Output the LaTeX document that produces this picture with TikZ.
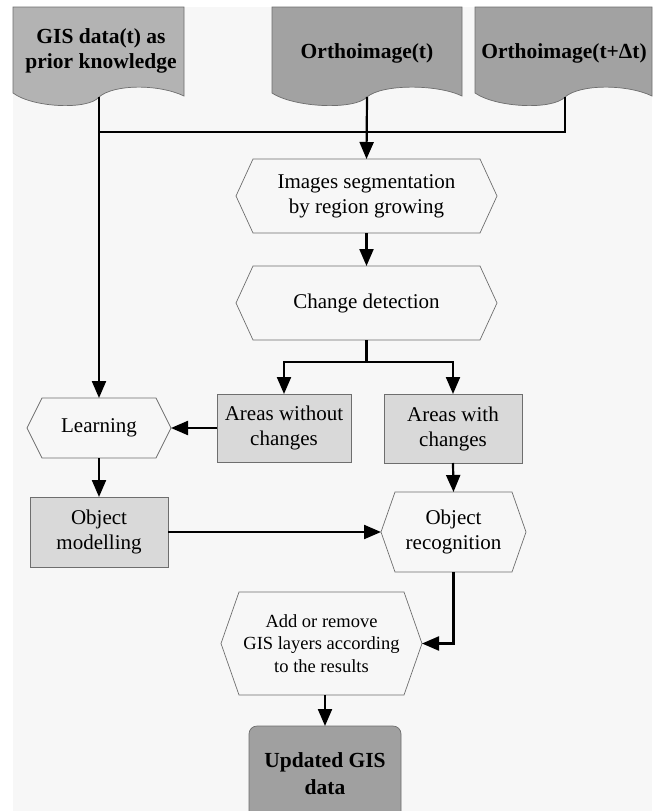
\documentclass[tikz,border=0pt]{standalone}
\usepackage{fontspec}
\setmainfont{Liberation Serif}
\usetikzlibrary{arrows.meta,calc}
\definecolor{bgc}{HTML}{F7F7F7}
\definecolor{gisc}{HTML}{B3B3B3}
\definecolor{ortc}{HTML}{A2A2A2}
\definecolor{boxc}{HTML}{D9D9D9}
\definecolor{updc}{HTML}{A0A0A0}
\definecolor{edgec}{HTML}{6E6E6E}
\newcommand\hexdraw[2]{\draw[hexline] (#1.west) -- ([xshift=#2]#1.north west) -- ([xshift=-#2]#1.north east) -- (#1.east) -- ([xshift=-#2]#1.south east) -- ([xshift=#2]#1.south west) -- cycle;}
\begin{document}
\begin{tikzpicture}[x=1pt,y=-1pt,
  txt/.style={font=\fontsize{21}{25}\selectfont, align=center},
  doctext/.style={font=\fontsize{21.5}{25}\selectfont\bfseries, align=center, inner sep=0pt},
  docline/.style={draw=edgec, line width=0.7pt},
  hexline/.style={draw=edgec, line width=0.7pt},
  hexnode/.style={txt, draw=none, inner sep=0pt, outer sep=0pt},
  grbox/.style={txt, draw=edgec, line width=0.7pt, fill=boxc, inner sep=0pt, outer sep=0pt},
  conn/.style={draw=black, line width=2.2pt},
  arr/.style={conn, -{Triangle[length=17pt,width=14pt]}}]
\useasboundingbox (0,0) rectangle (654,811);
\clip (0,0) rectangle (654,811);
\fill[white] (0,0) rectangle (654,811);
\fill[bgc] (13,7) rectangle (652,811);

% documents
\draw[docline, fill=gisc] (13,7) -- (184,7) -- (184,96) .. controls (159,84) and (114,84) .. (99,97) .. controls (89,110) and (33,108) .. (13,93) -- cycle;
\draw[docline, fill=ortc] (272,7) -- (462,7) -- (462,96) .. controls (437,84) and (382,84) .. (367,97) .. controls (355,110) and (295,108) .. (272,93) -- cycle;
\draw[docline, fill=ortc] (475,7) -- (652,7) -- (652,96) .. controls (627,84) and (580,84) .. (565,97) .. controls (553,110) and (497,108) .. (475,93) -- cycle;
\node[doctext] (gis) at (101,51) {GIS data(t) as\\prior knowledge};
\node[doctext] (ort1) at (367,53) {Orthoimage(t)};
\node[doctext] (ort2) at (564,53) {Orthoimage(t+Δt)};
\coordinate (gisC) at (99,97);
\coordinate (ort1C) at (367,97);
\coordinate (ort2C) at (565,97);
\coordinate (bus) at (99,132);

% process nodes
\node[hexnode, minimum width=261pt, minimum height=74pt] (seg) at (366.5,196) {Images segmentation\\by region growing};
\node[hexnode, minimum width=261pt, minimum height=74pt] (cd) at (366.5,303) {Change detection};
\node[hexnode, minimum width=144pt, minimum height=60pt] (learn) at (99,428) {Learning};
\node[grbox, minimum width=134pt, minimum height=68pt] (awo) at (284,428) {Areas without\\changes};
\node[grbox, minimum width=138pt, minimum height=69pt] (awi) at (453,428.5) {Areas with\\changes};
\node[grbox, minimum width=138pt, minimum height=70pt] (om) at (99,532) {Object\\modelling};
\node[hexnode, minimum width=145pt, minimum height=80pt] (orec) at (453.5,532) {Object\\recognition};
\node[hexnode, minimum width=201pt, minimum height=103pt, font=\fontsize{18.5}{22.5}\selectfont] (addr) at (321.5,643.5) {Add or remove\\GIS layers according\\to the results};
\node[txt, draw=edgec, line width=0.7pt, fill=updc, rounded corners=8pt, inner sep=0pt, outer sep=0pt, minimum width=152pt, minimum height=95pt, font=\fontsize{21.5}{27}\selectfont\bfseries] (upd) at (325,773.5) {Updated GIS\\data};

\hexdraw{seg}{17pt}
\hexdraw{cd}{17pt}
\hexdraw{learn}{15pt}
\hexdraw{orec}{14pt}
\hexdraw{addr}{18pt}

% connectors
\draw[conn] (ort2C) |- (bus);
\draw[arr] (gisC) -- (learn.north);
\draw[arr] (ort1C) -- (seg.north);
\draw[arr] (seg.south) -- (cd.north);
\coordinate (br) at (366.5,362);
\draw[conn] (cd.south) -- (br);
\draw[arr] (br) -| (awo.north);
\draw[arr] (br) -| (awi.north);
\draw[arr] (awo.west) -- (learn.east);
\draw[arr] (learn.south) -- (om.north);
\draw[arr] (awi.south) -- (orec.north);
\draw[arr] (om.east) -- (orec.west);
\draw[arr] (orec.south) |- (addr.east);
\draw[arr] (upd.north |- addr.south) -- (upd.north);
\end{tikzpicture}
\end{document}
